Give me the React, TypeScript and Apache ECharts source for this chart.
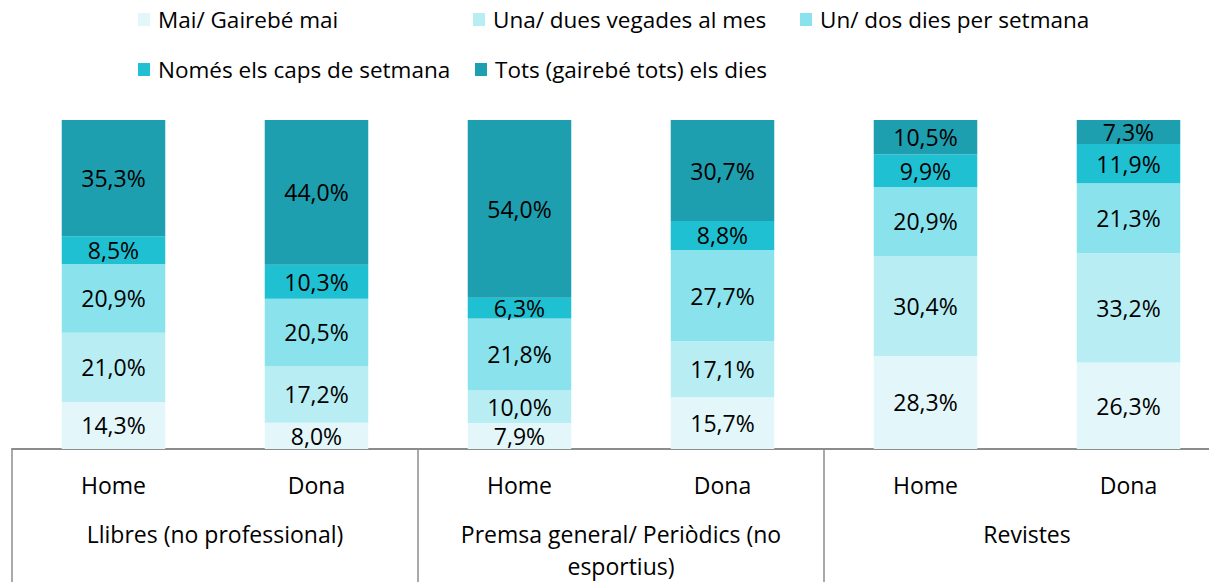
import React, { useEffect, useRef } from "react";
import * as echarts from "echarts";

const categories = ["Home", "Dona", "Home", "Dona", "Home", "Dona"];
const groups = ["Llibres (no professional)", "Premsa general/ Periòdics (no\nesportius)", "Revistes"];
const seriesNames = [
  "Mai/ Gairebé mai",
  "Una/ dues vegades al mes",
  "Un/ dos dies per setmana",
  "Només els caps de setmana",
  "Tots (gairebé tots) els dies",
];
const maiGairebeMai = [14.3, 8.0, 7.9, 15.7, 28.3, 26.3];
const unaDuesVegades = [21.0, 17.2, 10.0, 17.1, 30.4, 33.2];
const unDosDies = [20.9, 20.5, 21.8, 27.7, 20.9, 21.3];
const nomesCaps = [8.5, 10.3, 6.3, 8.8, 9.9, 11.9];
const totsDies = [35.3, 44.0, 54.0, 30.7, 10.5, 7.3];
const seriesValues = [maiGairebeMai, unaDuesVegades, unDosDies, nomesCaps, totsDies];
const colors = ["#E3F7FA", "#B8EEF3", "#8AE3EC", "#1FC0D2", "#1E9FAF"];

const FONT = "'Open Sans', sans-serif";

export default function App() {
  const ref = useRef<HTMLDivElement>(null);
  useEffect(() => {
    if (!ref.current) return;
    const chart = echarts.init(ref.current, undefined, { renderer: "svg" });
    const legendPos = [
      { left: 138, top: 8 },
      { left: 473, top: 8 },
      { left: 800, top: 8 },
      { left: 138, top: 58 },
      { left: 475, top: 58 },
    ];
    chart.setOption({
      animation: false,
      textStyle: { fontFamily: FONT },
      legend: seriesNames.map((n, i) => ({
        data: [n],
        left: legendPos[i].left,
        top: legendPos[i].top,
        itemWidth: 12,
        itemHeight: 13,
        icon: "rect",
        padding: 0,
        textStyle: { fontSize: 22.5, color: "#000", fontFamily: FONT, padding: [0, 0, 0, 3] },
        selectedMode: false,
      })),
      grid: { left: 12, top: 120, width: 1218, height: 330 },
      xAxis: [
        {
          type: "category",
          data: categories,
          position: "bottom",
          axisLine: { show: true, lineStyle: { color: "#8c8c8c", width: 2 } },
          axisTick: { show: false },
          axisLabel: { color: "#000", fontSize: 23, margin: 24, fontFamily: FONT, interval: 0, hideOverlap: false },
        },
        {
          type: "category",
          data: groups,
          position: "bottom",
          axisLine: { show: false },
          axisTick: { show: true, interval: 0, length: 140, lineStyle: { color: "#8c8c8c", width: 1.5 } },
          axisLabel: {
            color: "#000",
            fontSize: 23,
            margin: 69,
            lineHeight: 32,
            fontFamily: FONT,
            interval: 0,
            hideOverlap: false,
          },
        },
      ],
      yAxis: {
        type: "value",
        min: 0,
        max: 100,
        show: false,
        splitLine: { show: false },
      },
      series: seriesNames.map((n, i) => ({
        name: n,
        type: "bar",
        stack: "total",
        xAxisIndex: 0,
        barWidth: "51%",
        data: seriesValues[i],
        itemStyle: { color: colors[i] },
        label: {
          show: true,
          position: "inside",
          color: "#000",
          fontSize: 23,
          fontFamily: FONT,
          formatter: (p: any) => p.value.toFixed(1).replace(".", ",") + "%",
        },
      })),
    });
    return () => chart.dispose();
  }, []);
  return (
    <div style={{ position: "fixed", left: 0, top: 0, width: 1209, height: 582, overflow: "hidden", background: "#fff" }}>
      <div ref={ref} style={{ width: 1250, height: 582 }} />
    </div>
  );
}
